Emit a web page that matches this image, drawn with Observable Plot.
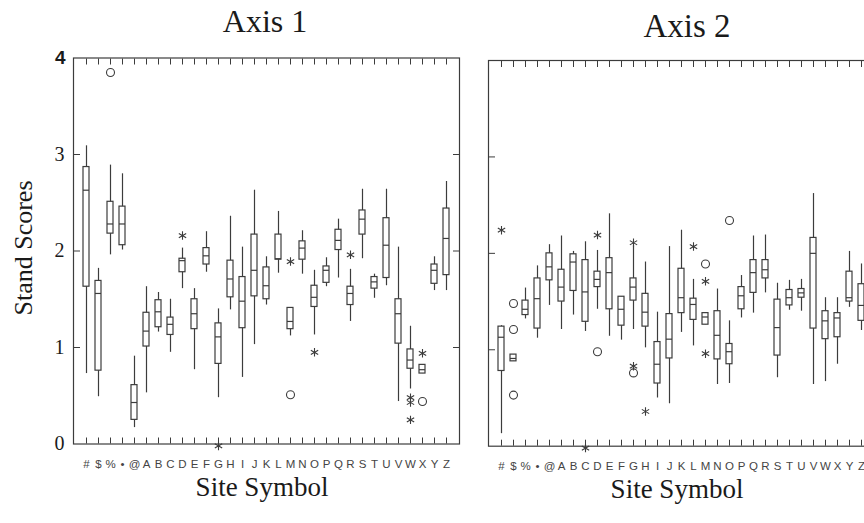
<!DOCTYPE html>
<html><head><meta charset="utf-8">
<script src="https://cdn.jsdelivr.net/npm/d3@7"></script>
<script src="https://cdn.jsdelivr.net/npm/@observablehq/plot@0.6"></script>
<style>
body{margin:0;background:#fff;overflow:hidden}
#wrap{position:relative;width:864px;height:523px;overflow:hidden;background:#fff}
.t{position:absolute;font-family:"Liberation Serif","DejaVu Serif",serif;color:#1a1a1a;white-space:nowrap;line-height:1em}
.p{position:absolute;top:0}
</style></head><body><div id="wrap"></div>
<script>
const sites = ["#","$","%","•","@","A","B","C","D","E","F","G","H","I","J","K","L","M","N","O","P","Q","R","S","T","U","V","W","X","Y","Z"];
const yTickValues = [0,1,2,3];
const yTopTick = [4];

// Axis 1 box statistics (order follows sites)
const a1Hi  = [3.09,1.82,2.89,2.80,0.91,1.63,1.57,1.50,2.03,1.61,2.20,1.40,2.36,2.04,2.63,1.94,2.41,1.41,2.21,1.80,1.93,2.33,1.81,2.64,1.76,2.64,2.04,1.22,0.82,1.94,2.72];
const a1Q3  = [2.87,1.69,2.51,2.46,0.61,1.36,1.49,1.31,1.92,1.50,2.03,1.25,1.90,1.73,2.17,1.83,2.17,1.41,2.10,1.64,1.84,2.22,1.63,2.42,1.73,2.34,1.50,0.98,0.82,1.86,2.44];
const a1Med = [2.63,1.56,2.28,2.28,0.43,1.17,1.37,1.24,1.90,1.35,1.95,1.11,1.71,1.48,1.80,1.64,1.92,1.27,2.03,1.52,1.80,2.11,1.56,2.33,1.68,2.06,1.35,0.87,0.77,1.80,2.13];
const a1Q1  = [1.63,0.76,2.18,2.06,0.25,1.01,1.21,1.13,1.78,1.19,1.86,0.83,1.52,1.20,1.53,1.50,1.91,1.19,1.91,1.42,1.67,2.01,1.44,2.17,1.61,1.72,1.04,0.78,0.73,1.66,1.75];
const a1Lo  = [0.73,0.49,1.96,2.01,0.17,0.53,1.16,0.95,1.61,0.77,1.78,0.48,1.39,0.69,1.03,1.44,1.77,1.12,1.76,1.13,1.63,1.72,1.27,1.92,1.51,1.64,0.44,0.57,0.73,1.59,1.59];
const a1CircleSites = ["%","M","X"];
const a1CircleValues = [3.85,0.51,0.44];
const a1StarSites = ["D","G","M","O","R","W","W","W","X"];
const a1StarValues = [2.16,-0.02,1.89,0.95,1.96,0.48,0.43,0.25,0.94];

// Axis 2 box statistics
const a2Hi  = [1.25,0.95,1.64,1.87,2.09,2.18,2.02,2.12,2.03,2.41,1.55,2.08,1.91,1.39,2.07,2.24,1.73,1.38,1.63,1.30,1.77,2.18,2.19,1.69,1.72,1.73,2.62,1.54,1.54,2.02,1.89];
const a2Q3  = [1.24,0.95,1.51,1.74,2.00,1.83,1.99,1.93,1.81,1.95,1.55,1.74,1.58,1.08,1.37,1.84,1.53,1.38,1.40,1.06,1.65,1.93,1.93,1.52,1.62,1.63,2.16,1.40,1.38,1.81,1.68];
const a2Med = [1.13,0.91,1.42,1.53,1.86,1.65,1.91,1.60,1.73,1.80,1.42,1.65,1.39,0.85,1.11,1.54,1.47,1.34,1.15,0.98,1.56,1.80,1.83,1.23,1.54,1.59,2.00,1.30,1.33,1.54,1.46];
const a2Q1  = [0.78,0.88,1.36,1.22,1.72,1.50,1.61,1.29,1.65,1.42,1.25,1.51,1.24,0.65,0.91,1.38,1.31,1.26,0.90,0.85,1.42,1.59,1.74,0.94,1.46,1.54,1.22,1.11,1.13,1.50,1.30];
const a2Lo  = [0.13,0.88,1.32,1.12,1.46,1.21,1.36,1.19,1.42,1.14,1.10,1.21,1.02,0.50,0.44,1.18,1.04,1.26,0.64,0.65,1.33,1.38,1.59,0.71,1.41,1.40,0.64,0.67,0.85,1.44,1.20];
const a2CircleSites = ["$","$","$","D","G","M","O"];
const a2CircleValues = [1.48,1.21,0.53,0.98,0.76,1.89,2.34];
const a2StarSites = ["#","C","D","G","G","H","L","M","M"];
const a2StarValues = [2.24,-0.02,2.19,2.11,0.83,0.36,2.07,1.71,0.96];

const ink = "#3c3c3c";

function panel(o) {
  const boxes = sites.map((s,i)=>({site:s, lo:o.lo[i], q1:o.q1[i], med:o.med[i], q3:o.q3[i], hi:o.hi[i]}));
  const circles = o.circS.map((s,i)=>({site:s, v:o.circV[i]}));
  const stars = o.starS.map((s,i)=>({site:s, v:o.starV[i]}));
  const marks = [
    Plot.frame({stroke: ink, strokeWidth: 1.2}),
    Plot.axisX({anchor:"top", tickSize:-6, tickFormat:()=>"", label:null, stroke:ink}),
    Plot.axisX({anchor:"bottom", tickSize:-6, tickFormat:()=>"", label:null, stroke:ink}),
    Plot.axisX({anchor:"bottom", tickSize:0, tickPadding:16, label:null, fontFamily:"Liberation Sans, Arial, sans-serif", fontSize:11.5, fill:"#444"}),
    Plot.axisY({anchor:"left", ticks:[1,2,3], tickSize:-7, tickFormat:()=>"", label:null, stroke:ink}),
    Plot.axisY({anchor:"right", ticks:[1,2,3], tickSize:-7, tickFormat:()=>"", label:null, stroke:ink}),
    Plot.ruleX(boxes, {x:"site", y1:"lo", y2:"hi", stroke:ink, strokeWidth:1.2}),
    Plot.barY(boxes, {x:"site", y1:"q1", y2:"q3", fill:"white", stroke:ink, strokeWidth:1.2}),
    Plot.tickY(boxes, {x:"site", y:"med", stroke:ink, strokeWidth:1.2}),
    Plot.dot(circles, {x:"site", y:"v", symbol:"circle", r:4, stroke:ink, fill:"none", strokeWidth:1.1}),
    Plot.dot(stars, {x:"site", y:"v", symbol:"asterisk", r:4, stroke:ink, strokeWidth:1.1})
  ];
  if (o.showY) {
    marks.push(Plot.axisY({anchor:"left", ticks:yTickValues, tickSize:0, tickPadding:9, tickFormat:d=>String(d), label:null, fontFamily:"Liberation Serif, serif", fontSize:20, fill:"#1a1a1a"}));
    marks.push(Plot.axisY({anchor:"left", ticks:yTopTick, tickSize:0, tickPadding:8, tickFormat:d=>String(d), label:null, fontFamily:"Liberation Sans, Arial, sans-serif", fontWeight:"bold", fontSize:19, fill:"#1a1a1a"}));
  }
  return Plot.plot({
    width:o.width, height:470,
    marginLeft:o.ml, marginRight:o.mr, marginTop:o.mt, marginBottom:470-o.bottom,
    style:{background:"transparent", color:ink, overflow:"visible"},
    x:{type:"band", domain:sites, paddingInner:0.46, paddingOuter:0.73, axis:null},
    y:{domain:[0,4], axis:null},
    marks
  });
}

const wrap = document.getElementById("wrap");
const p1 = panel({hi:a1Hi,q3:a1Q3,med:a1Med,q1:a1Q1,lo:a1Lo,circS:a1CircleSites,circV:a1CircleValues,starS:a1StarSites,starV:a1StarValues,
  width:470, ml:73, mr:11, mt:57.5, bottom:443.5, showY:true});
const p2 = panel({hi:a2Hi,q3:a2Q3,med:a2Med,q1:a2Q1,lo:a2Lo,circS:a2CircleSites,circV:a2CircleValues,starS:a2StarSites,starV:a2StarValues,
  width:410, ml:18, mr:6, mt:60, bottom:445.7, showY:false});
p1.classList.add("p"); p1.style.left="0px";
p2.classList.add("p"); p2.style.left="470px";
wrap.appendChild(p1); wrap.appendChild(p2);

function label(text, x, baseline, size, rotate) {
  const d = document.createElement("div");
  d.className = "t";
  d.textContent = text;
  d.style.fontSize = size + "px";
  if (rotate) {
    d.style.left = x + "px";
    d.style.top = baseline + "px";
    d.style.transform = "translate(-50%,-50%) rotate(-90deg)";
  } else {
    d.style.left = x + "px";
    d.style.top = (baseline - 0.8375*size) + "px";
    d.style.transform = "translateX(-50%)";
  }
  wrap.appendChild(d);
}
label("Axis 1", 265, 31.5, 32);
label("Axis 2", 687, 38, 33);
label("Site Symbol", 262, 497, 27);
label("Site Symbol", 677, 499, 27);
label("Stand Scores", 24, 248, 26, true);
</script></body></html>
